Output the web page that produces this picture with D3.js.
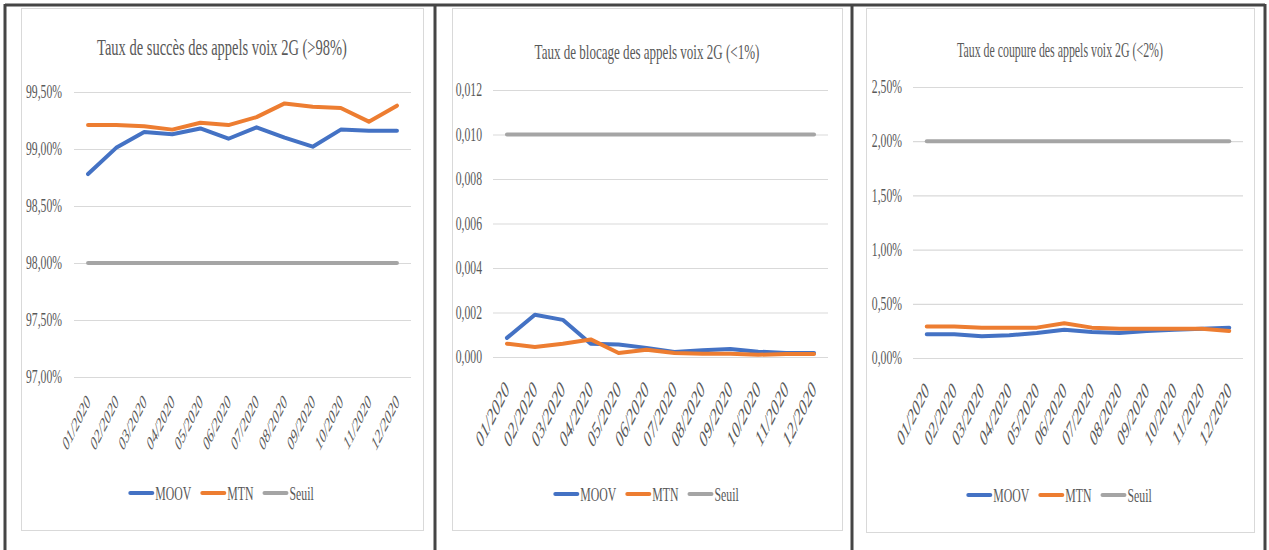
<!DOCTYPE html>
<html>
<head>
<meta charset="utf-8">
<script src="https://cdn.jsdelivr.net/npm/d3@7"></script>
<style>
  body { margin: 0; background: #fff; }
  svg { display: block; }
  text { font-family: "Liberation Serif", "DejaVu Serif", serif; fill: #595959; }
</style>
</head>
<body>
<svg width="1269" height="550"></svg>
<script>
let months = ['01/2020','02/2020','03/2020','04/2020','05/2020','06/2020','07/2020','08/2020','09/2020','10/2020','11/2020','12/2020']
let seriesNames = ['MOOV', 'MTN', 'Seuil']

// taux de succes (fraction)
let succesMoov = [0.9878, 0.9901, 0.9915, 0.9913, 0.9918, 0.9909, 0.9919, 0.9910, 0.9902, 0.9917, 0.9916, 0.9916]
let succesMtn = [0.9921, 0.9921, 0.9920, 0.9917, 0.9923, 0.9921, 0.9928, 0.9940, 0.9937, 0.9936, 0.9924, 0.9938]
let succesSeuil = [0.98, 0.98, 0.98, 0.98, 0.98, 0.98, 0.98, 0.98, 0.98, 0.98, 0.98, 0.98]
let succesTicks = [0.97, 0.975, 0.98, 0.985, 0.99, 0.995]

// taux de blocage
let blocageMoov = [0.00086, 0.0019, 0.00167, 0.0006, 0.00056, 0.00041, 0.00023, 0.0003, 0.00036, 0.00024, 0.00018, 0.00018]
let blocageMtn = [0.0006, 0.00045, 0.0006, 0.00079, 0.00018, 0.00033, 0.00018, 0.00015, 0.00015, 0.0001, 0.00014, 0.00014]
let blocageSeuil = [0.01, 0.01, 0.01, 0.01, 0.01, 0.01, 0.01, 0.01, 0.01, 0.01, 0.01, 0.01]
let blocageTicks = [0, 0.002, 0.004, 0.006, 0.008, 0.010, 0.012]

// taux de coupure
let coupureMoov = [0.0022, 0.0022, 0.0020, 0.0021, 0.0023, 0.0026, 0.0024, 0.0023, 0.0025, 0.0026, 0.0027, 0.0028]
let coupureMtn = [0.0029, 0.0029, 0.0028, 0.0028, 0.0028, 0.0032, 0.0028, 0.0027, 0.0027, 0.0027, 0.0027, 0.0025]
let coupureSeuil = [0.02, 0.02, 0.02, 0.02, 0.02, 0.02, 0.02, 0.02, 0.02, 0.02, 0.02, 0.02]
let coupureTicks = [0, 0.005, 0.01, 0.015, 0.02, 0.025]

let titles = ['Taux de succès des appels voix 2G (>98%)', 'Taux de blocage des appels voix 2G (<1%)', 'Taux de coupure des appels voix 2G (<2%)']

let colors = ['#4472C4', '#ED7D31', '#A5A5A5']

let fr = d3.formatLocale({decimal: ',', thousands: ' ', grouping: [3], currency: ['', ' €']})

let svg = d3.select('svg')

// squeeze text horizontally (the source picture is stretched), keeps x anchor in place
let squash = (sel, k) => {
  sel.each(function () {
    let t = d3.select(this)
    let x = +(t.attr('x') || 0)
    let tr = t.attr('transform') || ''
    t.attr('x', x / k).attr('transform', tr + ' scale(' + k + ',1)')
  })
}

let panels = [
  {title: titles[0], series: [succesMoov, succesMtn, succesSeuil], ticks: succesTicks, fmt: fr.format('.2%'),
   box: [21, 8, 423, 530], grid: [74, 411], y: [377, 92], domain: [0.97, 0.995], labelX: 62,
   titleY: 55, titleSize: 24, titleW: 250, xFont: 10.5, xDy: 26, legendY: 493},
  {title: titles[1], series: [blocageMoov, blocageMtn, blocageSeuil], ticks: blocageTicks, fmt: fr.format('.3f'),
   box: [452, 8, 842, 530], grid: [493, 828], y: [357, 90], domain: [0, 0.012], labelX: 482,
   titleY: 59, titleSize: 21, titleW: 225, xFont: 12.5, xDy: 34, legendY: 494},
  {title: titles[2], series: [coupureMoov, coupureMtn, coupureSeuil], ticks: coupureTicks, fmt: fr.format('.2%'),
   box: [866, 8, 1254, 532], grid: [913, 1243], y: [358, 87], domain: [0, 0.025], labelX: 902,
   titleY: 57, titleSize: 20, titleW: 206, xFont: 12, xDy: 34, legendY: 495}
]

let drawPanel = (p) => {
  let g = svg.append('g')
  let [x0, y0, x1, y1] = p.box
  g.append('rect').attr('x', x0 + 0.5).attr('y', y0 + 0.5).attr('width', x1 - x0).attr('height', y1 - y0)
    .attr('fill', '#fff').attr('stroke', '#d9d9d9')

  let cx = (x0 + x1) / 2
  let title = g.append('text').attr('x', cx).attr('y', p.titleY).attr('text-anchor', 'middle')
    .style('font-size', p.titleSize + 'px')
    .text(p.title)
  title.call(squash, p.titleW / title.node().getComputedTextLength())

  let xScale = d3.scalePoint().domain(months).range(p.grid).padding(0.5)
  let yScale = d3.scaleLinear().domain(p.domain).range(p.y)

  // gridlines + y labels
  let yAxis = d3.axisLeft(yScale).tickValues(p.ticks).tickFormat(p.fmt)
    .tickSize(-(p.grid[1] - p.grid[0])).tickPadding(p.grid[0] - p.labelX)
  let ya = g.append('g').attr('transform', 'translate(' + p.grid[0] + ',0)').call(yAxis)
  ya.select('.domain').remove()
  ya.selectAll('line').attr('stroke', '#d9d9d9').attr('stroke-width', 1.2)
  ya.selectAll('text').attr('fill', '#595959').style('font-size', '18px')
    .style('font-family', '"Liberation Serif", serif').call(squash, 0.65)

  // x labels, rotated
  let base = yScale(p.domain[0])
  let xa = g.append('g')
  xa.selectAll('text').data(months).enter().append('text')
    .attr('transform', (d) => 'translate(' + (xScale(d) + 3) + ',' + (base + p.xDy) + ') scale(1,2) rotate(-45)')
    .attr('text-anchor', 'end')
    .style('font-size', p.xFont + 'px')
    .text((d) => d)

  let line = d3.line().x((d, i) => xScale(months[i])).y((d) => yScale(d))
  p.series.forEach((s, i) => {
    g.append('path').datum(s).attr('d', line).attr('fill', 'none')
      .attr('stroke', colors[i]).attr('stroke-width', 4)
      .attr('stroke-linejoin', 'round').attr('stroke-linecap', 'round')
  })

  // legend
  let lg = g.append('g')
  let pos = 0
  let k = 0.62
  seriesNames.forEach((n, i) => {
    lg.append('line').attr('x1', pos).attr('x2', pos + 22).attr('y1', 0).attr('y2', 0)
      .attr('stroke', colors[i]).attr('stroke-width', 4).attr('stroke-linecap', 'round')
    let t = lg.append('text').attr('x', pos + 25).attr('y', 0).attr('dy', '0.35em')
      .style('font-size', '19px').text(n)
    let w = t.node().getComputedTextLength() * k
    t.call(squash, k)
    pos += 25 + w + 11
  })
  let w = pos - 11
  lg.attr('transform', 'translate(' + (cx - w / 2) + ',' + p.legendY + ')')
}

panels.forEach(drawPanel)

// dark frame
let frame = svg.append('g').attr('stroke', '#454545').attr('stroke-width', 3)
frame.append('line').attr('x1', 5).attr('x2', 1265).attr('y1', 5).attr('y2', 5)
;[5, 435, 852, 1265].forEach((x) => {
  frame.append('line').attr('x1', x).attr('x2', x).attr('y1', 4).attr('y2', 550)
})
</script>
</body>
</html>
